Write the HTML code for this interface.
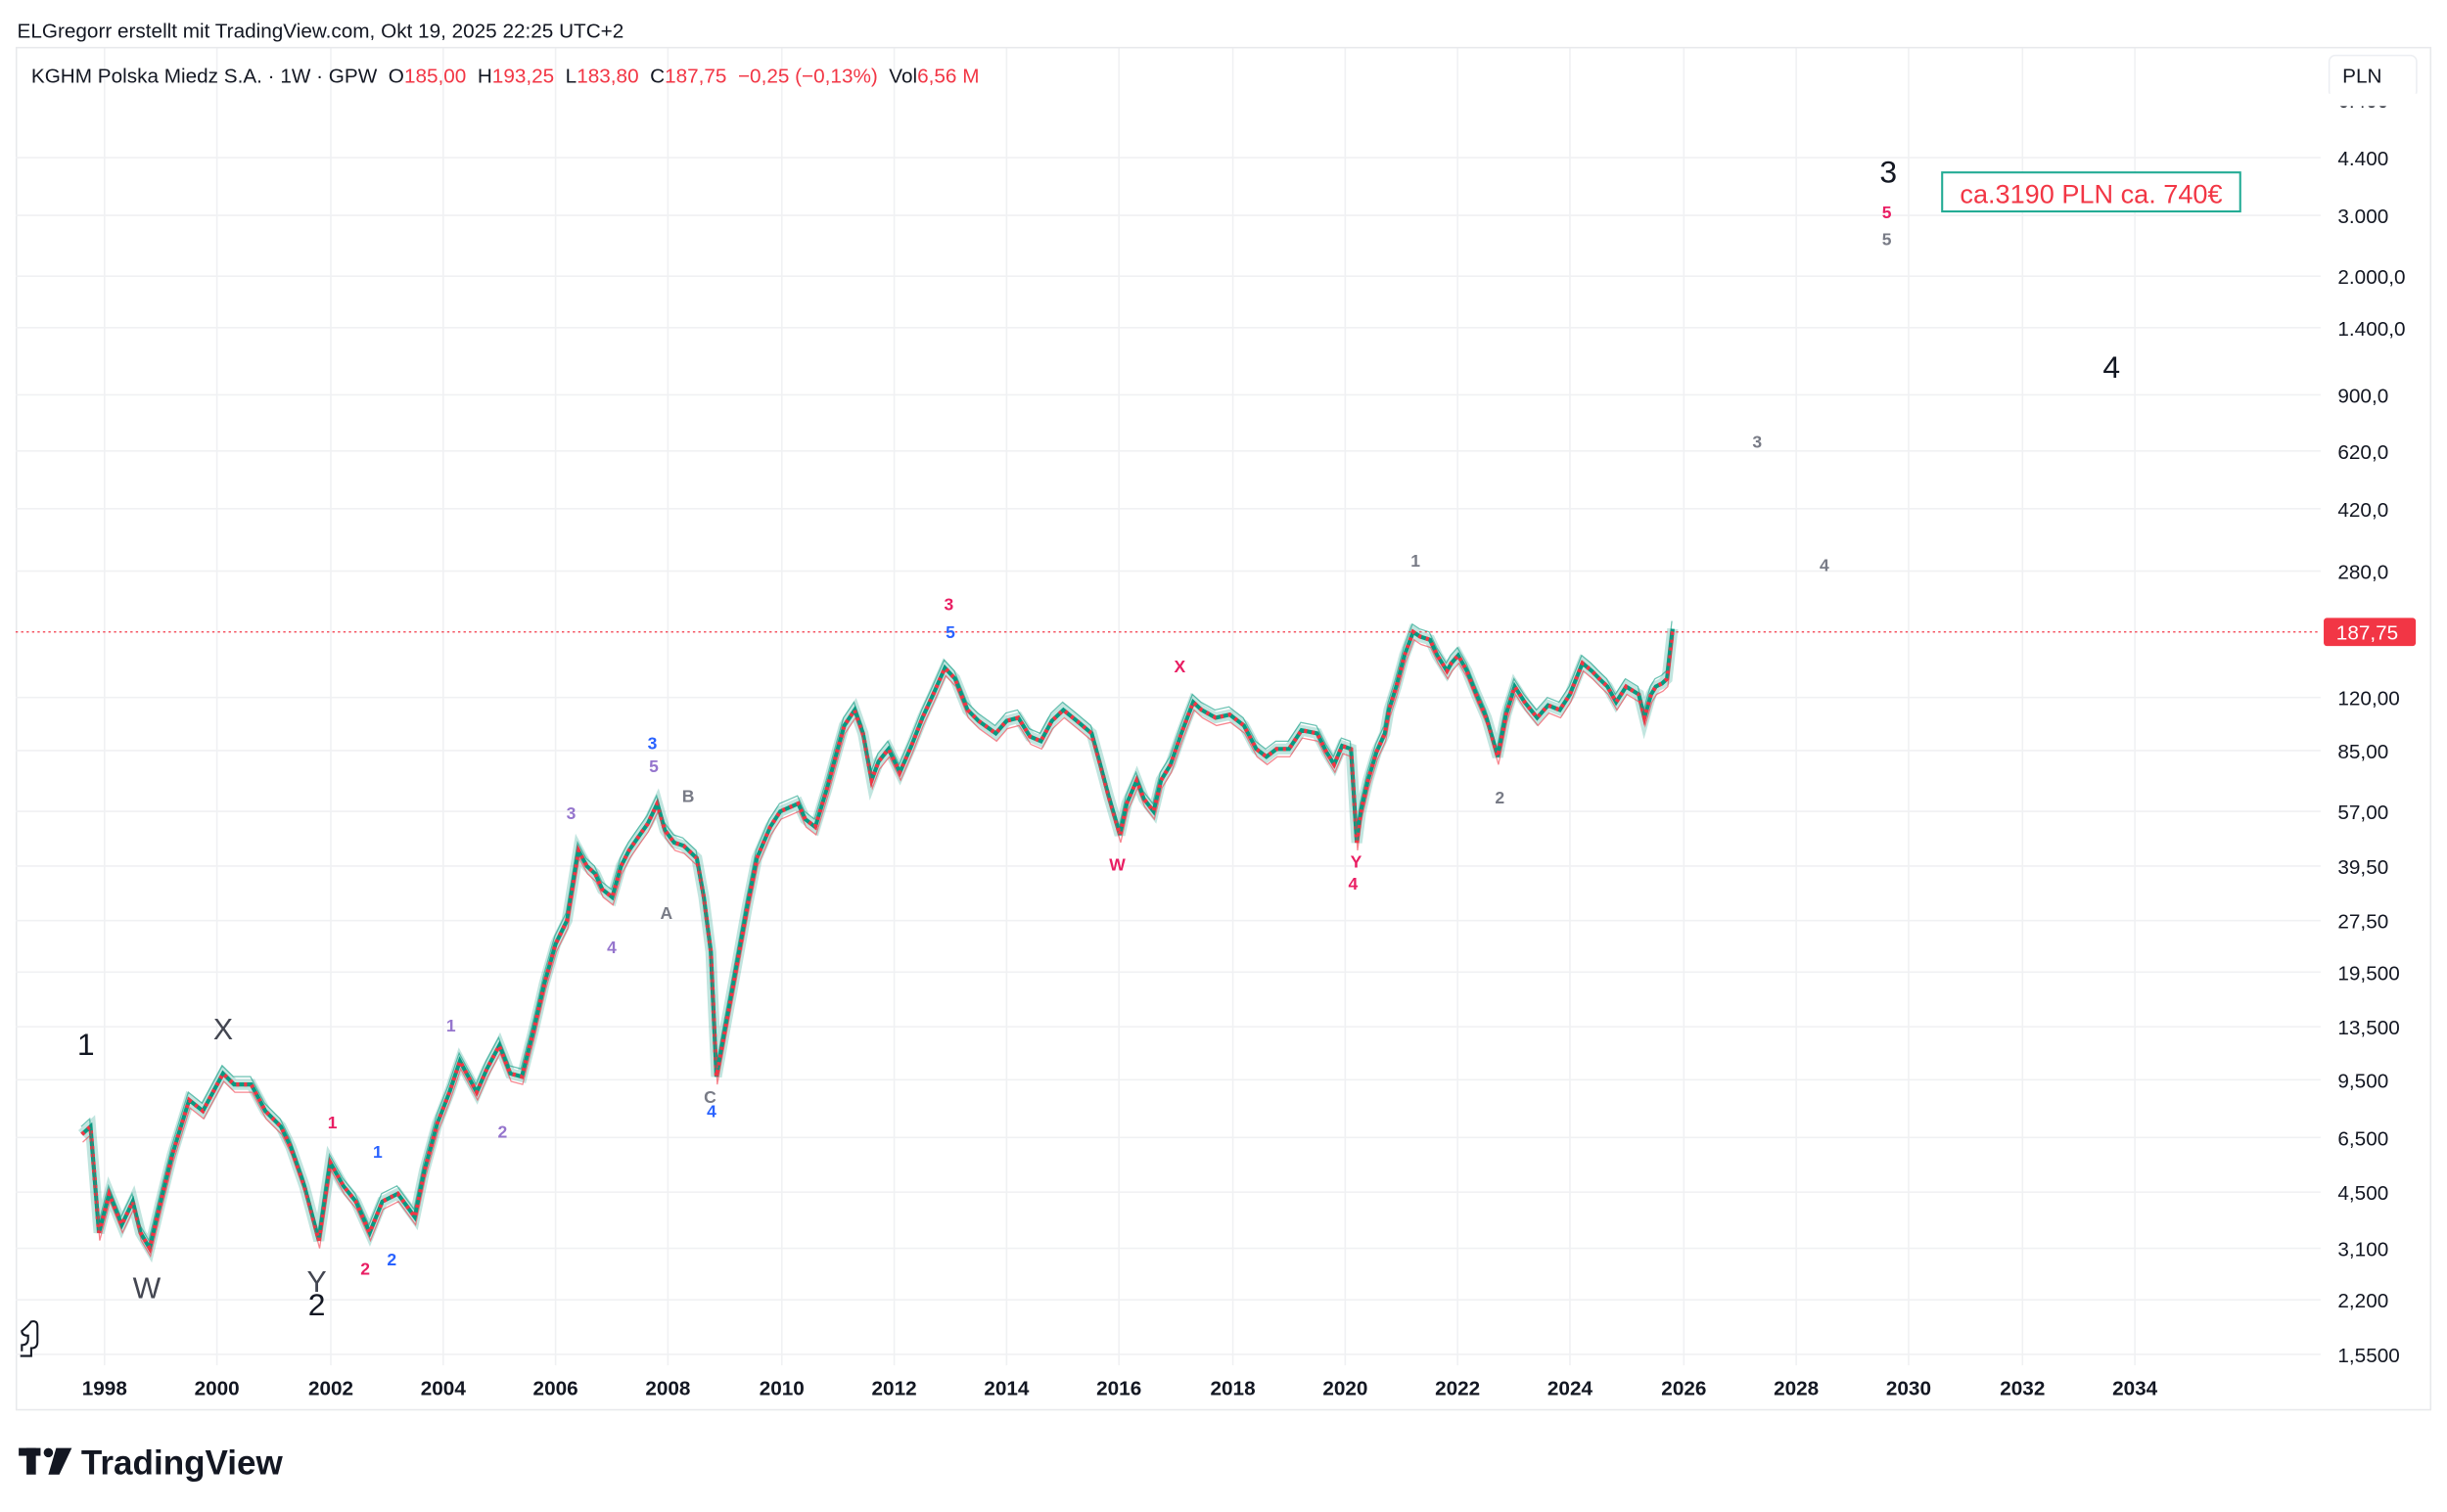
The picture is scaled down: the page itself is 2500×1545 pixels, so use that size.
<!DOCTYPE html>
<html><head><meta charset="utf-8"><style>
html,body{margin:0;padding:0;background:#fff;width:2500px;height:1545px;overflow:hidden}
svg{display:block}
text{font-family:"Liberation Sans",sans-serif}
</style></head><body>
<svg width="2500" height="1545" viewBox="0 0 1568 969" xmlns="http://www.w3.org/2000/svg">
<rect width="1568" height="969" fill="#fff"/>
<text x="11" y="24" font-size="13" fill="#131722">ELGregorr erstellt mit TradingView.com, Okt 19, 2025 22:25 UTC+2</text>
<rect x="10.5" y="30.5" width="1547" height="873" fill="none" stroke="#e8e9ec"/>
<g stroke="#f0f1f3" stroke-width="1">
<line x1="10" x2="1487" y1="101" y2="101"/><line x1="10" x2="1487" y1="138" y2="138"/><line x1="10" x2="1487" y1="177" y2="177"/><line x1="10" x2="1487" y1="210" y2="210"/><line x1="10" x2="1487" y1="253" y2="253"/><line x1="10" x2="1487" y1="289" y2="289"/><line x1="10" x2="1487" y1="326" y2="326"/><line x1="10" x2="1487" y1="366" y2="366"/><line x1="10" x2="1487" y1="447" y2="447"/><line x1="10" x2="1487" y1="481" y2="481"/><line x1="10" x2="1487" y1="520" y2="520"/><line x1="10" x2="1487" y1="555" y2="555"/><line x1="10" x2="1487" y1="590" y2="590"/><line x1="10" x2="1487" y1="623" y2="623"/><line x1="10" x2="1487" y1="658" y2="658"/><line x1="10" x2="1487" y1="692" y2="692"/><line x1="10" x2="1487" y1="729" y2="729"/><line x1="10" x2="1487" y1="764" y2="764"/><line x1="10" x2="1487" y1="800" y2="800"/><line x1="10" x2="1487" y1="833" y2="833"/><line x1="10" x2="1487" y1="868" y2="868"/>
<line x1="67" x2="67" y1="31" y2="875"/><line x1="139" x2="139" y1="31" y2="875"/><line x1="212" x2="212" y1="31" y2="875"/><line x1="284" x2="284" y1="31" y2="875"/><line x1="356" x2="356" y1="31" y2="875"/><line x1="428" x2="428" y1="31" y2="875"/><line x1="501" x2="501" y1="31" y2="875"/><line x1="573" x2="573" y1="31" y2="875"/><line x1="645" x2="645" y1="31" y2="875"/><line x1="717" x2="717" y1="31" y2="875"/><line x1="790" x2="790" y1="31" y2="875"/><line x1="862" x2="862" y1="31" y2="875"/><line x1="934" x2="934" y1="31" y2="875"/><line x1="1006" x2="1006" y1="31" y2="875"/><line x1="1079" x2="1079" y1="31" y2="875"/><line x1="1151" x2="1151" y1="31" y2="875"/><line x1="1223" x2="1223" y1="31" y2="875"/><line x1="1296" x2="1296" y1="31" y2="875"/><line x1="1368" x2="1368" y1="31" y2="875"/>
</g>
<g fill="none" stroke-linejoin="round">
<path id="p" d="M52.5 727 L58 722 L63.4 790 L70 765 L78 785 L85.1 770 L90 790 L95.9 800 L103 770 L110.4 740 L115 725 L121.2 705 L130 712 L142.9 688 L150 695 L161 695 L170 712 L180 722 L186.3 735 L195 760 L204.3 795 L211.6 745 L220 760 L228 770 L236.9 790 L245 770 L254.9 765 L265.8 780 L272 750 L280.2 720 L288 700 L294.7 680 L305.5 700 L312 685 L320 670 L327 688 L334.4 690 L342 660 L348.9 630 L356 605 L363.3 590 L370.6 545 L376 555 L381.4 560 L386 570 L392.3 575 L398 555 L403.1 545 L410 535 L415 528 L421.2 515 L426 532 L432 540 L438 542 L446.5 550 L451 575 L455.5 610 L459.1 690 L464.5 660 L470 630 L479 580 L485 550 L493.5 530 L500 520 L511.5 515 L516 525 L522.4 530 L530 505 L536.8 480 L541 465 L547.7 455 L553 470 L558.5 500 L563 488 L569.4 480 L576.6 495 L584 478 L591.1 460 L598 445 L605.5 428 L612 435 L620 455 L627 462 L638.1 470 L645 462 L652.5 460 L660 472 L667 475 L674 462 L681.4 455 L690 462 L699.5 470 L705 490 L710.3 510 L717.6 535 L722 515 L728.4 500 L733 512 L739.2 520 L744 500 L750.1 490 L757 470 L764.6 450 L770 455 L779 460 L788 458 L797.1 465 L805 480 L811.5 485 L818 480 L826 480 L834 468 L844 470 L850 482 L854.9 490 L860 478 L865.7 480 L869.4 540 L872 520 L876.6 500 L882 482 L887.4 470 L890 455 L894.7 440 L900 420 L905.5 405 L910 408 L916.3 410 L921 420 L927.2 430 L930 425 L934.4 420 L940 430 L946 445 L952.5 460 L956 472 L959.7 485 L965 458 L970.6 440 L977 450 L985 460 L992 452 L999.5 455 L1006 445 L1014 425 L1020 430 L1024.8 435 L1030 440 L1035.6 450 L1042 440 L1050.1 445 L1053.7 460 L1058 445 L1061 440 L1065 438 L1068.2 435 L1071.8 403"/>
</g>
<use href="#p" stroke="#089981" stroke-width="7" stroke-opacity="0.25" fill="none"/>
<use href="#p" stroke="#089981" stroke-width="2.6" fill="none"/>
<use href="#p" stroke="#f23645" stroke-width="2.6" stroke-dasharray="2 3" fill="none"/>
<use href="#p" stroke="#f23645" stroke-width="0.8" fill="none" transform="translate(0.5 5)" stroke-opacity="0.6"/>
<use href="#p" stroke="#089981" stroke-width="0.8" fill="none" transform="translate(-0.5 -5)" stroke-opacity="0.6"/>
<line x1="10" y1="405" x2="1487" y2="405" stroke="#f23645" stroke-width="0.8" stroke-dasharray="1.5 2"/>
<text x="20" y="53" font-size="13" fill="#131722" xml:space="preserve">KGHM Polska Miedz S.A. · 1W · GPW  O<tspan fill="#f23645">185,00</tspan>  H<tspan fill="#f23645">193,25</tspan>  L<tspan fill="#f23645">183,80</tspan>  C<tspan fill="#f23645">187,75  −0,25 (−0,13%)</tspan>  Vol<tspan fill="#f23645">6,56 M</tspan></text>
<rect x="1492.5" y="35.5" width="56" height="27" rx="4" fill="#fff" stroke="#eceef2"/>
<text x="1501" y="53" font-size="13" fill="#131722">PLN</text>
<g font-size="13" fill="#131722">
<text x="1498" y="69">6.400</text><text x="1498" y="106">4.400</text><text x="1498" y="143">3.000</text><text x="1498" y="182">2.000,0</text><text x="1498" y="215">1.400,0</text><text x="1498" y="258">900,0</text><text x="1498" y="294">620,0</text><text x="1498" y="331">420,0</text><text x="1498" y="371">280,0</text><text x="1498" y="452">120,00</text><text x="1498" y="486">85,00</text><text x="1498" y="525">57,00</text><text x="1498" y="560">39,50</text><text x="1498" y="595">27,50</text><text x="1498" y="628">19,500</text><text x="1498" y="663">13,500</text><text x="1498" y="697">9,500</text><text x="1498" y="734">6,500</text><text x="1498" y="769">4,500</text><text x="1498" y="805">3,100</text><text x="1498" y="838">2,200</text><text x="1498" y="873">1,5500</text>
</g>
<rect x="1489" y="396" width="59" height="18" rx="2" fill="#f23645"/>
<text x="1497" y="410" font-size="13" fill="#fff">187,75</text>
<g font-size="13" font-weight="bold" fill="#131722" text-anchor="middle">
<text x="67" y="894">1998</text><text x="139" y="894">2000</text><text x="212" y="894">2002</text><text x="284" y="894">2004</text><text x="356" y="894">2006</text><text x="428" y="894">2008</text><text x="501" y="894">2010</text><text x="573" y="894">2012</text><text x="645" y="894">2014</text><text x="717" y="894">2016</text><text x="790" y="894">2018</text><text x="862" y="894">2020</text><text x="934" y="894">2022</text><text x="1006" y="894">2024</text><text x="1079" y="894">2026</text><text x="1151" y="894">2028</text><text x="1223" y="894">2030</text><text x="1296" y="894">2032</text><text x="1368" y="894">2034</text>
</g>
<rect x="1488" y="60" width="68" height="8" fill="#fff"/>
<g text-anchor="middle">
<g font-size="20" fill="#131722"><text x="55" y="676">1</text><text x="203" y="843">2</text><text x="1210" y="117">3</text><text x="1353" y="242">4</text></g>
<g font-size="19" fill="#434651"><text x="143" y="666">X</text><text x="94" y="832">W</text><text x="203" y="828">Y</text></g>
<g font-size="11" font-weight="bold" fill="#e91e63"><text x="213" y="723">1</text><text x="234" y="817">2</text><text x="608" y="391">3</text><text x="756" y="431">X</text><text x="716" y="558">W</text><text x="869" y="556">Y</text><text x="867" y="570">4</text><text x="1209" y="140">5</text></g>
<g font-size="11" font-weight="bold" fill="#2962ff"><text x="242" y="742">1</text><text x="251" y="811">2</text><text x="418" y="480">3</text><text x="609" y="409">5</text><text x="456" y="716">4</text></g>
<g font-size="11" font-weight="bold" fill="#9575cd"><text x="289" y="661">1</text><text x="322" y="729">2</text><text x="366" y="525">3</text><text x="392" y="611">4</text><text x="419" y="495">5</text></g>
<g font-size="11" font-weight="bold" fill="#787b86"><text x="441" y="514">B</text><text x="427" y="589">A</text><text x="455" y="707">C</text><text x="907" y="363">1</text><text x="961" y="515">2</text><text x="1126" y="287">3</text><text x="1169" y="366">4</text><text x="1209" y="157">5</text></g>
</g>
<rect x="1244.5" y="110.5" width="191" height="25" fill="#fff" stroke="#22ab94" stroke-width="1.3"/>
<text x="1340" y="130" font-size="17" fill="#f23645" text-anchor="middle">ca.3190 PLN ca. 740€</text>
<path d="M14 866 L14 862 Q18 862 18 858 L18 856 Q14 856 14 853 Q18 850 20 847 Q24 846 24 850 L24 860 Q24 864 20 864 L20 869 L13 869" fill="none" stroke="#131722" stroke-width="1.3"/>
<g fill="#131722">
<rect x="12" y="928" width="14" height="5"/><rect x="17" y="928" width="6" height="17"/>
<circle cx="31" cy="931" r="3"/><path d="M36 928 L46 928 L38 945 L31 945 Z"/>
</g>
<text x="52" y="945" font-size="22" font-weight="bold" fill="#131722">TradingView</text>
</svg>
</body></html>
